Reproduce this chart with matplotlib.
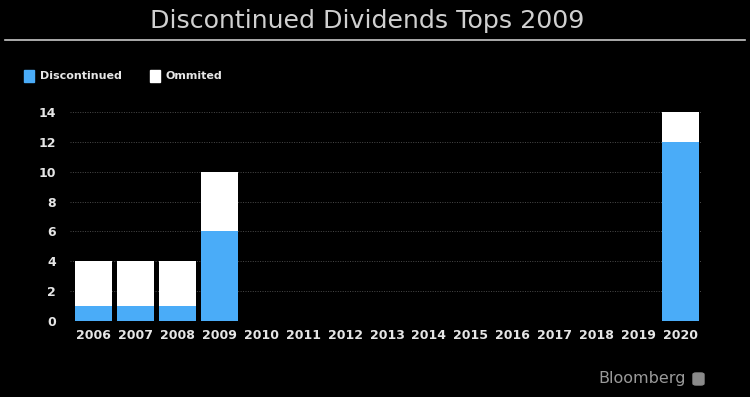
import matplotlib.pyplot as plt
from matplotlib.lines import Line2D
from matplotlib.patches import Rectangle, FancyBboxPatch

years = ['2006', '2007', '2008', '2009', '2010', '2011', '2012', '2013',
         '2014', '2015', '2016', '2017', '2018', '2019', '2020']
discontinued = [1, 1, 1, 6, 0, 0, 0, 0, 0, 0, 0, 0, 0, 0, 12]
omitted = [3, 3, 3, 4, 0, 0, 0, 0, 0, 0, 0, 0, 0, 0, 2]
y_ticks = [0, 2, 4, 6, 8, 10, 12, 14]

blue = '#4aacf8'
text_col = '#e6e6e6'

fig = plt.figure(figsize=(7.5, 3.97), dpi=100, facecolor='black')
ax = fig.add_axes([70 / 750, 1 - 321 / 397, 632 / 750, 209 / 397])
ax.set_facecolor('black')

x = list(range(len(years)))
ax.bar(x, discontinued, width=0.88, color=blue, zorder=3)
ax.bar(x, omitted, width=0.88, bottom=discontinued, color='white', zorder=3)

ax.set_xlim(-0.56, 14.51)
ax.set_ylim(0, 14)
ax.set_yticks(y_ticks)
ax.set_xticks(x)
ax.set_xticklabels(years)
for lab in ax.get_xticklabels() + ax.get_yticklabels():
    lab.set_fontweight('bold')
    lab.set_fontsize(9)
    lab.set_color(text_col)
ax.tick_params(length=0, pad=6)
ax.tick_params(axis='y', pad=10)
ax.grid(axis='y', color='#4a4a4a', linestyle=(0, (1, 1.5)), linewidth=0.7, zorder=0)
for s in ax.spines.values():
    s.set_visible(False)

# title and rule
fig.text(0.489, 0.948, 'Discontinued Dividends Tops 2009', ha='center', va='center',
         fontsize=18.2, color='#d0d0d0')
fig.add_artist(Line2D([5 / 750, 745 / 750], [1 - 40 / 397, 1 - 40 / 397],
                      color='#c8c8c8', linewidth=1.2))

# legend
for xs, label, col in [(24, 'Discontinued', blue), (150, 'Ommited', 'white')]:
    fig.add_artist(Rectangle((xs / 750, 1 - 82 / 397), 10 / 750, 12 / 397,
                             color=col, transform=fig.transFigure))
    fig.text((xs + 16) / 750, 1 - 76 / 397, label, ha='left', va='center',
             fontsize=8, fontweight='bold', color=text_col)

fig.text(686 / 750, 1 - 379 / 397, 'Bloomberg', ha='right', va='center',
         fontsize=11.5, color='#9a9a9a')
fig.add_artist(FancyBboxPatch((693 / 750, 1 - 385 / 397), 11 / 750, 12 / 397,
                              boxstyle='round,pad=0,rounding_size=0.004',
                              color='#8a8a8a', transform=fig.transFigure))

fig.savefig('out.png', dpi=100, facecolor='black')
